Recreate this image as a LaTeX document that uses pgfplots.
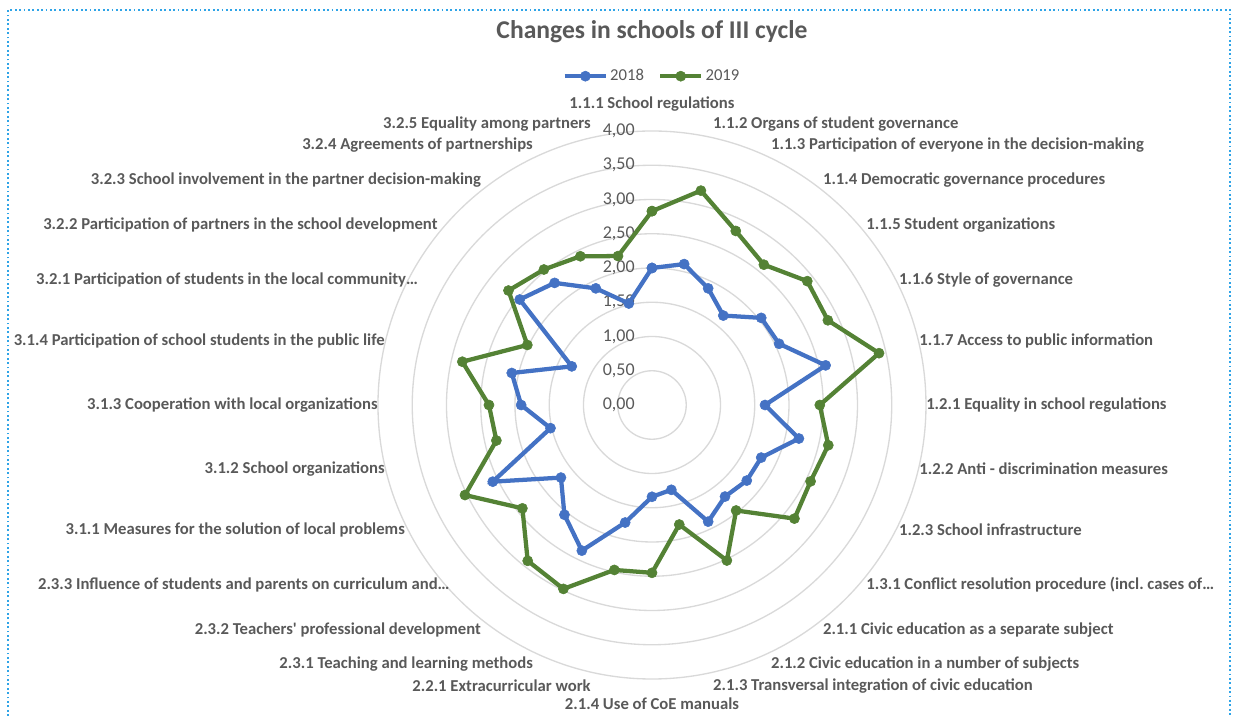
\documentclass[border=0pt]{standalone}
\usepackage{fontspec}
\setmainfont{Carlito}
\usepackage{pgfplots}
\pgfplotsset{compat=1.18}
\usepgfplotslibrary{polar}
\usepackage{pgfplotstable}
\definecolor{ser1}{HTML}{4472C4}
\definecolor{ser2}{HTML}{548235}
\definecolor{gridc}{HTML}{D9D9D9}
\definecolor{txt}{HTML}{595959}
\definecolor{framec}{HTML}{2FA4E7}

\pgfplotstableread{
angle y2018 y2019
90 2.00 2.83
77.1429 2.11 3.21
64.2857 1.89 2.82
51.4286 1.67 2.62
38.5714 2.04 2.90
25.7143 2.06 2.85
12.8571 2.60 3.40
0 1.65 2.45
347.1429 2.20 2.64
334.2857 1.77 2.57
321.4286 1.77 2.66
308.5714 1.71 1.97
295.7143 1.89 2.52
282.8571 1.27 1.79
270 1.34 2.45
257.1429 1.76 2.47
244.2857 2.36 2.98
231.4286 2.05 2.91
218.5714 1.70 2.42
205.7143 2.58 3.03
192.8571 1.52 2.33
180 1.91 2.38
167.1429 2.10 2.84
154.2857 1.30 2.02
141.4286 2.47 2.68
128.5714 2.28 2.53
115.7143 1.89 2.41
102.8571 1.52 2.23
90 2.00 2.83
}\radar

\begin{document}
\frenchspacing
\begin{tikzpicture}[
  lab/.style={font=\fontsize{12.5}{14}\bfseries\selectfont, text=txt, inner sep=0pt},
  tl/.style={font=\fontsize{13.5}{15}\selectfont, text=txt, inner sep=0pt, anchor=east, xshift=-12.75pt},
]
\path[use as bounding box] (-489pt,-233.25pt) rectangle (435.75pt,303.75pt);
\draw[framec, dotted, line width=1.3pt] (-483pt,-233.25pt) -- (-483pt,296.25pt) -- (433.5pt,296.25pt) -- (433.5pt,-233.25pt);
\node[font=\fontsize{19.2}{23}\bfseries\selectfont, text=txt, inner sep=0pt] at (0pt,280pt) {Changes in schools of III cycle};
\begin{polaraxis}[
  at={(0pt,0pt)}, anchor=center,
  scale only axis, width=411pt, height=411pt,
  xmin=0, xmax=360, ymin=0, ymax=4,
  xtick=\empty,
  ytick={0.5,1,1.5,2,2.5,3,3.5,4},
  yticklabels={},
  ymajorgrids, xmajorgrids=false,
  y grid style={gridc, line width=1pt},
  axis line style={draw=none},
  major tick length=0pt,
  clip=false,
  legend columns=2,
  legend style={draw=none, fill=none, at={(0.5,1.1)}, anchor=center,
    font=\fontsize{12.5}{14}\selectfont, text=txt, nodes={inner xsep=1.5pt},
    /tikz/every even column/.append style={column sep=9pt}},
  legend image code/.code={\draw[mark repeat=2,mark phase=2,#1] plot coordinates {(0pt,0pt) (15.5pt,0pt) (31pt,0pt)};},
]
\node[tl] at (axis cs:90,0) {0,00};
\node[tl] at (axis cs:90,0.5) {0,50};
\node[tl] at (axis cs:90,1) {1,00};
\node[tl] at (axis cs:90,1.5) {1,50};
\node[tl] at (axis cs:90,2) {2,00};
\node[tl] at (axis cs:90,2.5) {2,50};
\node[tl] at (axis cs:90,3) {3,00};
\node[tl] at (axis cs:90,3.5) {3,50};
\node[tl] at (axis cs:90,4) {4,00};

\addplot[ser1, line width=3.2pt, mark=*, mark size=3.8pt, mark options={fill=ser1, draw=ser1, line width=0.4pt}] table[x=angle, y=y2018] {\radar};
\addlegendentry{2018}
\addplot[ser2, line width=3.2pt, mark=*, mark size=3.8pt, mark options={fill=ser2, draw=ser2, line width=0.4pt}] table[x=angle, y=y2019] {\radar};
\addlegendentry{2019}

\node[lab, anchor=center, yshift=20.25pt] at (axis cs:90,4) {1.1.1 School regulations};
\node[lab, anchor=west, yshift=10.24pt] at (axis cs:77.1429,4) {1.1.2 Organs of student governance};
\node[lab, anchor=west, yshift=9.46pt] at (axis cs:64.2857,4) {1.1.3 Participation of everyone in the decision-making};
\node[lab, anchor=west, yshift=8.21pt] at (axis cs:51.4286,4) {1.1.4 Democratic governance procedures};
\node[lab, anchor=west, yshift=6.55pt] at (axis cs:38.5714,4) {1.1.5 Student organizations};
\node[lab, anchor=west, yshift=4.56pt] at (axis cs:25.7143,4) {1.1.6 Style of governance};
\node[lab, anchor=west, yshift=2.34pt] at (axis cs:12.8571,4) {1.1.7 Access to public information};
\node[lab, anchor=west] at (axis cs:0,4) {1.2.1 Equality in school regulations};
\node[lab, anchor=west, yshift=-2.34pt] at (axis cs:347.1429,4) {1.2.2 Anti - discrimination measures};
\node[lab, anchor=west, yshift=-4.56pt] at (axis cs:334.2857,4) {1.2.3 School infrastructure};
\node[lab, anchor=west, yshift=-6.55pt] at (axis cs:321.4286,4) {1.3.1 Conflict resolution procedure (incl. cases of…};
\node[lab, anchor=west, yshift=-8.21pt] at (axis cs:308.5714,4) {2.1.1 Civic education as a separate subject};
\node[lab, anchor=west, yshift=-9.46pt] at (axis cs:295.7143,4) {2.1.2 Civic education in a number of subjects};
\node[lab, anchor=west, yshift=-10.24pt] at (axis cs:282.8571,4) {2.1.3 Transversal integration of civic education};
\node[lab, anchor=center, yshift=-18.75pt] at (axis cs:270,4) {2.1.4 Use of CoE manuals};
\node[lab, anchor=east, yshift=-10.24pt] at (axis cs:257.1429,4) {2.2.1 Extracurricular work};
\node[lab, anchor=east, yshift=-9.46pt] at (axis cs:244.2857,4) {2.3.1 Teaching and learning methods};
\node[lab, anchor=east, yshift=-8.21pt] at (axis cs:231.4286,4) {2.3.2 Teachers\textquotesingle\ professional development};
\node[lab, anchor=east, yshift=-6.55pt, xshift=9pt] at (axis cs:218.5714,4) {2.3.3 Influence of students and parents on curriculum and…};
\node[lab, anchor=east, yshift=-4.56pt] at (axis cs:205.7143,4) {3.1.1 Measures for the solution of local problems};
\node[lab, anchor=east, yshift=-2.34pt] at (axis cs:192.8571,4) {3.1.2 School organizations};
\node[lab, anchor=east] at (axis cs:180,4) {3.1.3 Cooperation with local organizations};
\node[lab, anchor=east, yshift=2.34pt] at (axis cs:167.1429,4) {3.1.4 Participation of school students in the public life};
\node[lab, anchor=east, yshift=4.56pt, xshift=9.75pt] at (axis cs:154.2857,4) {3.2.1 Participation of students in the local community…};
\node[lab, anchor=east, yshift=6.55pt] at (axis cs:141.4286,4) {3.2.2 Participation of partners in the school development};
\node[lab, anchor=east, yshift=8.21pt] at (axis cs:128.5714,4) {3.2.3 School involvement in the partner decision-making};
\node[lab, anchor=east, yshift=9.46pt] at (axis cs:115.7143,4) {3.2.4 Agreements of partnerships};
\node[lab, anchor=east, yshift=10.24pt] at (axis cs:102.8571,4) {3.2.5 Equality among partners};
\end{polaraxis}
\end{tikzpicture}
\end{document}
